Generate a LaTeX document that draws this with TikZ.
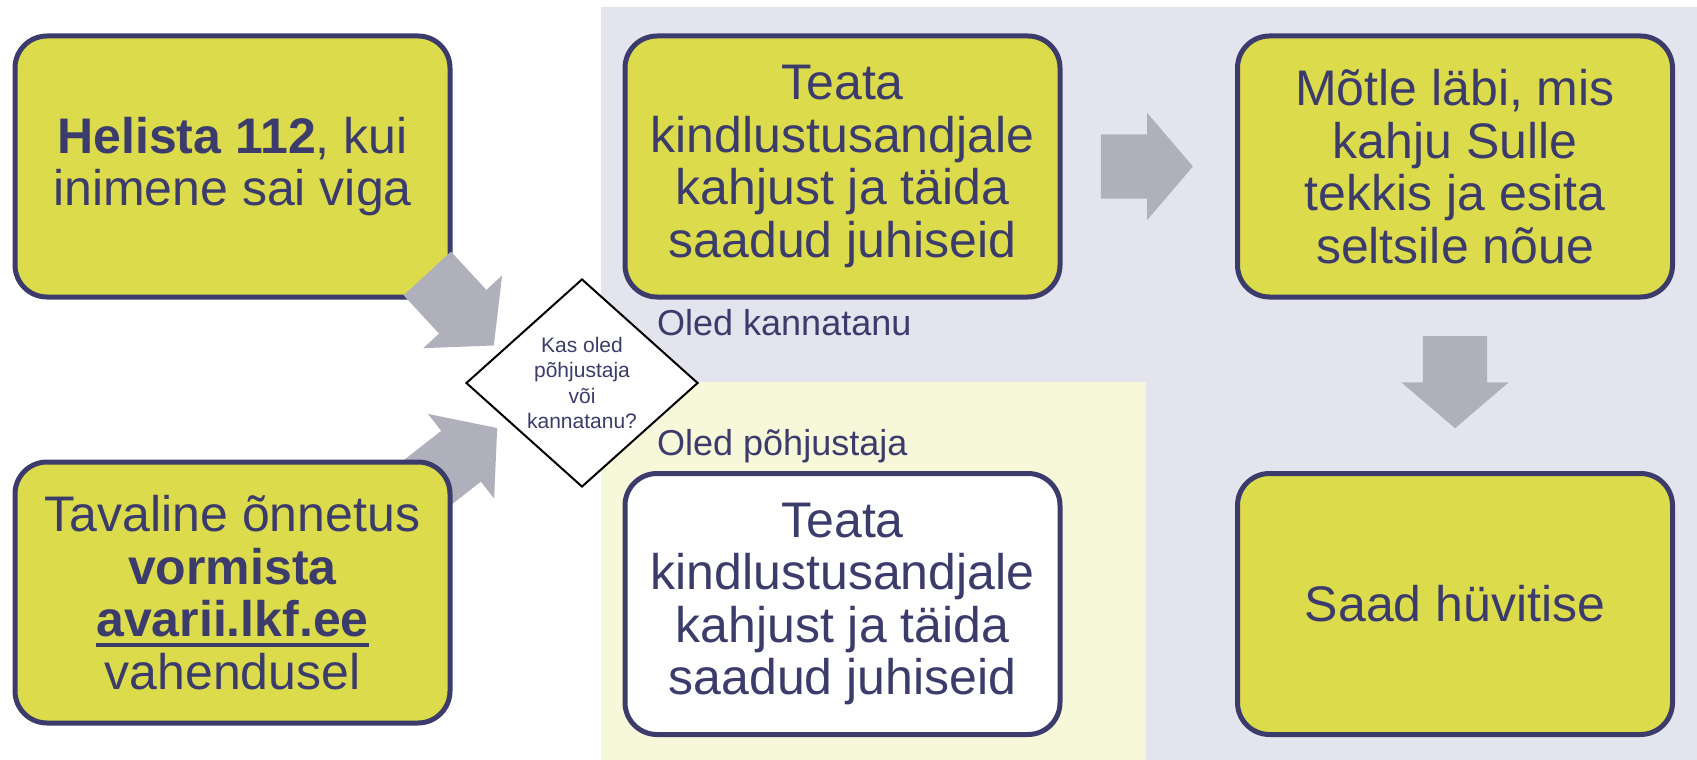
\documentclass[tikz,border=0pt]{standalone}
\usepackage{fontspec}
\setmainfont{Liberation Sans}
\usepackage{tikz}
\usetikzlibrary{positioning, shapes.geometric, shapes.arrows, calc}
\definecolor{navy}{HTML}{3C3C6C}
\definecolor{lime}{HTML}{DCDB4B}
\definecolor{panelgray}{HTML}{E4E4EE}
\definecolor{panelcream}{HTML}{F7F8DA}
\definecolor{arrowgray}{HTML}{B0B0BC}
\pgfdeclarelayer{behind}
\pgfsetlayers{behind,main}
\newcommand{\ulnk}[1]{\setbox0=\hbox{#1}\rlap{\rule[-10pt]{\wd0}{4pt}}\box0}

\begin{document}
\begin{tikzpicture}[
  x=1pt, y=-1pt,
  box/.style={draw=navy, line width=5pt, rounded corners=32pt,
              minimum width=435pt, minimum height=261pt, inner sep=0pt,
              outer sep=0pt, align=center, text=navy,
              font=\fontsize{50}{52.5}\selectfont},
  decision/.style={draw=black, line width=2pt, diamond, fill=white,
                   minimum width=232pt, minimum height=208pt, inner sep=0pt,
                   align=center, text=navy, font=\fontsize{21}{25.5}\selectfont},
  lbl/.style={text=navy, inner sep=0pt, anchor=base west,
              font=\fontsize{36}{40}\selectfont},
  bigarrow/.style={single arrow, draw=none, fill=arrowgray, inner xsep=0pt,
                   inner ysep=32pt, minimum width=107pt,
                   single arrow head extend=21.5pt,
                   single arrow tip angle=99, anchor=tail}
]
\useasboundingbox (0,0) rectangle (1697,760);

\node[box, fill=lime] (helista) at (232.5,166.5)
  {\textbf{Helista 112}, kui\\inimene sai viga};
\node[box, fill=lime, below=165pt of helista] (tavaline)
  {Tavaline õnnetus\\\textbf{vormista}\\\textbf{\ulnk{avarii.lkf.ee}}\\vahendusel};
\node[box, fill=lime, right=175pt of helista] (teatak)
  {Teata\\kindlustusandjale\\kahjust ja täida\\saadud juhiseid};
\node[box, fill=lime, right=177.5pt of teatak] (motle)
  {Mõtle läbi, mis\\kahju Sulle\\tekkis ja esita\\seltsile nõue};
\node[box, fill=white, below=176.5pt of teatak] (teatap)
  {Teata\\kindlustusandjale\\kahjust ja täida\\saadud juhiseid};
\node[box, fill=lime, below=176.5pt of motle] (saad) {Saad hüvitise};

\node[decision] (kysimus) at (582,383) {Kas oled\\põhjustaja\\või\\kannatanu?};
\node[lbl] (lblkann) at (657,335) {Oled kannatanu};
\node[lbl] (lblpohj) at (657,455) {Oled põhjustaja};

\node[bigarrow, minimum height=98pt, rotate=-47.3] (nool1)
  at ($(helista.south east)+(-22.8,-23.7)$) {};
\node[bigarrow, minimum height=92pt] (nool3)
  at ($(teatak.east)+(40.7,0)$) {};
\node[bigarrow, minimum height=92pt, rotate=-90] (nool4)
  at ($(motle.south)+(0,39)$) {};

\begin{pgfonlayer}{behind}
\fill[panelgray] (601,7) rectangle (1697,760);
\fill[panelcream] (601,382) rectangle (1146,760);
\node[bigarrow, minimum height=106pt, rotate=38] (nool2)
  at ($(tavaline.north east)+(-36.5,31.4)$) {};
\end{pgfonlayer}

\end{tikzpicture}
\end{document}
